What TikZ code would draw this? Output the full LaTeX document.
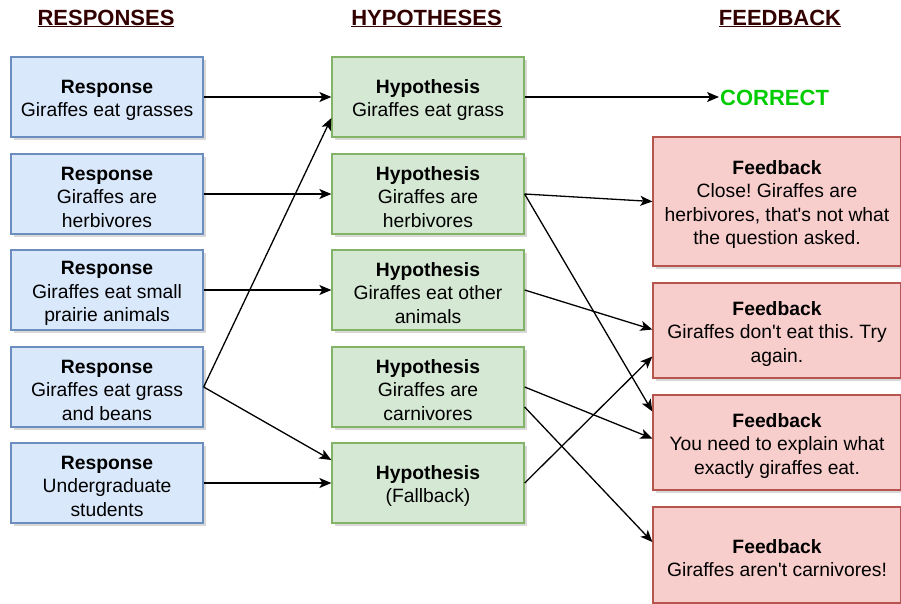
\documentclass[tikz,border=0pt]{standalone}
\usepackage{fontspec}
\setmainfont{Liberation Sans}
\usetikzlibrary{arrows.meta,shadows}
\definecolor{bfill}{HTML}{DAE8FC}
\definecolor{bdraw}{HTML}{6C8EBF}
\definecolor{gfill}{HTML}{D5E8D4}
\definecolor{gdraw}{HTML}{82B366}
\definecolor{rfill}{HTML}{F8CECC}
\definecolor{rdraw}{HTML}{B85450}
\definecolor{headc}{HTML}{330000}
\definecolor{okgreen}{HTML}{00CC00}
\tikzset{
  box/.style={draw, line width=1.3pt, align=center, inner sep=0pt,
    font=\fontsize{19.3}{23.5}\selectfont\frenchspacing,
    drop shadow={shadow xshift=2.5pt, shadow yshift=-3pt, opacity=0.22, fill=black!70}},
  resp/.style={box, fill=bfill, draw=bdraw, minimum width=192pt, minimum height=80pt},
  hyp/.style={box, fill=gfill, draw=gdraw, minimum width=192pt, minimum height=80pt},
  fb/.style={box, fill=rfill, draw=rdraw, minimum width=248pt},
  head/.style={font=\fontsize{22}{26}\selectfont\bfseries, text=headc, inner sep=0pt},
  conn/.style={-{Stealth[length=12pt,width=10pt,inset=3pt]}, line width=1.3pt}
}
\newcommand{\apo}{\textquotesingle}
\newcommand{\hd}[1]{\rule{0pt}{20pt}\textbf{#1}}
\begin{document}
\begin{tikzpicture}[x=1pt,y=-1pt]
\useasboundingbox (0,0) rectangle (901,603);
% headers
\node[head] (h-resp) at (106,18.5) {\underline{RESPONSES}};
\node[head] (h-hyp) at (426.5,18.5) {\underline{HYPOTHESES}};
\node[head] (h-fb) at (780,18.5) {\underline{FEEDBACK}};
% responses
\node[resp] (r1) at (107,97) {\hd{Response}\\Giraffes eat grasses};
\node[resp] (r2) at (107,194) {\hd{Response}\\Giraffes are\\herbivores};
\node[resp] (r3) at (107,290) {\hd{Response}\\Giraffes eat small\\prairie animals};
\node[resp] (r4) at (107,387) {\hd{Response}\\Giraffes eat grass\\and beans};
\node[resp] (r5) at (107,483) {\hd{Response}\\Undergraduate\\students};
% hypotheses
\node[hyp] (y1) at (428,97) {\hd{Hypothesis}\\Giraffes eat grass};
\node[hyp] (y2) at (428,194) {\hd{Hypothesis}\\Giraffes are\\herbivores};
\node[hyp] (y3) at (428,290) {\hd{Hypothesis}\\Giraffes eat other\\animals};
\node[hyp] (y4) at (428,387) {\hd{Hypothesis}\\Giraffes are\\carnivores};
\node[hyp] (y5) at (428,483) {\hd{Hypothesis}\\(Fallback)};
% feedback
\node[fb, minimum height=129pt] (f1) at (777,201.5) {\hd{Feedback}\\Close! Giraffes are\\herbivores, that\apo s not what\\the question asked.};
\node[fb, minimum height=95pt] (f2) at (777,330.5) {\hd{Feedback}\\Giraffes don\apo t eat this. Try\\again.};
\node[fb, minimum height=95pt] (f3) at (777,442.5) {\hd{Feedback}\\You need to explain what\\exactly giraffes eat.};
\node[fb, minimum height=96pt] (f4) at (777,555) {\hd{Feedback}\\Giraffes aren\apo t carnivores!};
% correct
\node[font=\fontsize{22}{26}\selectfont\bfseries, text=okgreen, anchor=west, inner sep=0pt] (ok) at (720,97.5) {CORRECT};
% connectors
\draw[conn] (r1.east) -- (y1.west);
\draw[conn] (r2.east) -- (y2.west);
\draw[conn] (r3.east) -- (y3.west);
\draw[conn] (r4.east) -- ([yshift=-21pt]y1.west);
\draw[conn] (r4.east) -- ([yshift=23pt]y5.west);
\draw[conn] (r5.east) -- (y5.west);
\draw[conn] (y1.east) -- ([xshift=-1pt,yshift=0.5pt]ok.west);
\draw[conn] (y2.east) -- (f1.west);
\draw[conn] (y2.east) -- ([yshift=31pt]f3.west);
\draw[conn] (y3.east) -- ([yshift=1pt]f2.west);
\draw[conn] (y4.east) -- ([yshift=4pt]f3.west);
\draw[conn] ([yshift=-20pt]y4.east) -- ([yshift=13pt]f4.west);
\draw[conn] (y5.east) -- ([yshift=-26pt]f2.west);
\end{tikzpicture}
\end{document}
